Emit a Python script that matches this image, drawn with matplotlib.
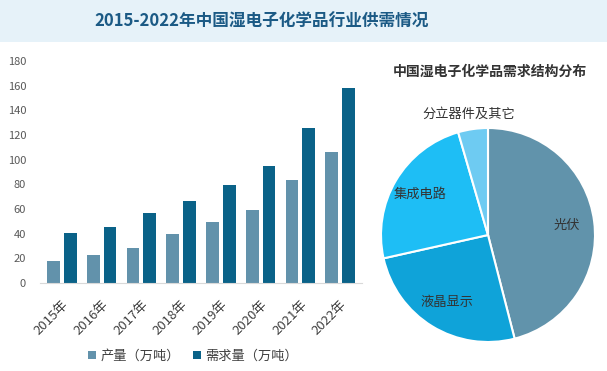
import matplotlib
matplotlib.use("Agg")
import matplotlib.pyplot as plt
from matplotlib.patches import Rectangle
import numpy as np

plt.rcParams['font.family'] = ['Noto Sans CJK SC', 'DejaVu Sans']

years = ["2015年", "2016年", "2017年", "2018年", "2019年", "2020年", "2021年", "2022年"]
production = [18, 22.5, 28, 39.5, 49.5, 59, 83.5, 106]
demand = [40.5, 45.5, 56.5, 66.5, 79.5, 95, 125.5, 158]
yticks = [0, 20, 40, 60, 80, 100, 120, 140, 160, 180]

pie_labels = ["光伏", "液晶显示", "集成电路", "分立器件及其它"]
pie_shares = [46.0, 25.5, 24.0, 4.5]

title = "2015-2022年中国湿电子化学品行业供需情况"
pie_title = "中国湿电子化学品需求结构分布"

c_prod = "#6292ab"
c_dem = "#0a6288"
pie_colors = ["#6193ab", "#0fa3d9", "#1ebef5", "#6ecbf2"]

fig = plt.figure(figsize=(6.07, 3.71), dpi=100)

# title band
band = Rectangle((0, 1 - 42 / 371), 1, 42 / 371, transform=fig.transFigure,
                 facecolor="#e6f2f9", edgecolor="none")
fig.patches.append(band)
fig.text(262 / 607, 1 - 22 / 371, title, ha="center", va="center",
         fontsize=12, fontweight="bold", color="#1b5a85")

# bar chart
ax = fig.add_axes([40 / 607, 88 / 371, 322 / 607, 222 / 371])
x = np.arange(len(years))
w = 0.32
ax.bar(x - 0.21, production, w, color=c_prod, label="产量（万吨）")
ax.bar(x + 0.21, demand, w, color=c_dem, label="需求量（万吨）")
ax.set_xlim(-0.55, len(years) - 0.45)
ax.set_ylim(0, 180)
ax.set_yticks(yticks)
ax.tick_params(axis="y", length=0, labelsize=8, labelcolor="#595959", pad=10)
ax.set_xticks(x)
ax.set_xticklabels(years, rotation=45, ha="right", rotation_mode="anchor",
                   fontsize=9.5, color="#404040")
ax.tick_params(axis="x", length=0, pad=11)
for s in ["top", "right", "left"]:
    ax.spines[s].set_visible(False)
ax.spines["bottom"].set_color("#d9d9d9")
ax.legend(loc="center", bbox_to_anchor=(0.475, -0.33), ncol=2, frameon=False,
          fontsize=9.5, handlelength=0.6, handleheight=0.6, handletextpad=0.3,
          columnspacing=1.0, labelcolor="#404040")

# pie chart
r_w = 214 / 607
r_h = 214 / 371
pax = fig.add_axes([488 / 607 - r_w / 2, (371 - 235) / 371 - r_h / 2, r_w, r_h])
wedges, texts = pax.pie(pie_shares, labels=pie_labels, colors=pie_colors,
                        startangle=90, counterclock=False, labeldistance=0.74,
                        wedgeprops=dict(edgecolor="white", linewidth=1.5),
                        textprops=dict(fontsize=9.5, color="#333333",
                                       ha="center", va="center"))
tx, ty = texts[3].get_position()
texts[3].set_position((tx * 1.14 / 0.74 - 0.02, ty * 1.14 / 0.74))
pax.set_xlim(-1, 1)
pax.set_ylim(-1, 1)
pax.set_aspect("equal")
fig.text(490 / 607, 1 - 72 / 371, pie_title, ha="center", va="center",
         fontsize=10, fontweight="bold", color="#333333")

fig.savefig("out.png", dpi=100)
